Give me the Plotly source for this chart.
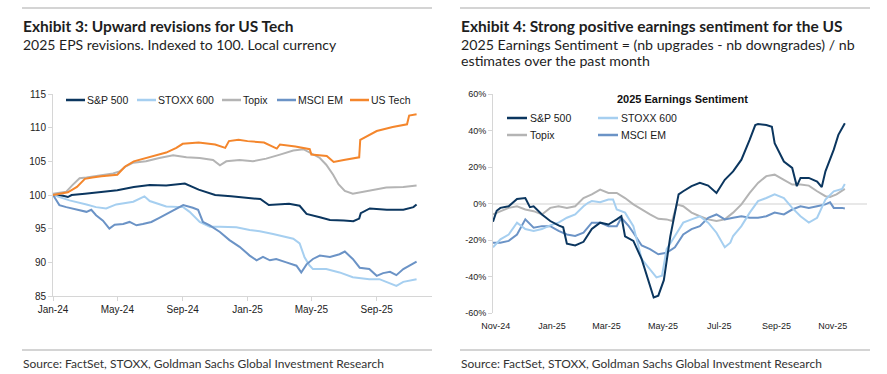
import plotly.graph_objects as go

W, H = 887, 374

# ---------------- Exhibit 3: EPS revisions (indexed to 100) ----------------
sp_dates = ["2024-01-01", "2024-01-20", "2024-01-29", "2024-02-05", "2024-03-01", "2024-04-01",
            "2024-05-01", "2024-06-01", "2024-07-01", "2024-08-01", "2024-09-01", "2024-09-05",
            "2024-10-01", "2024-11-01", "2024-12-01", "2025-01-01", "2025-01-25", "2025-02-10",
            "2025-03-01", "2025-03-20", "2025-04-09", "2025-04-22", "2025-05-17", "2025-06-05",
            "2025-07-01", "2025-07-19", "2025-07-30", "2025-08-02", "2025-08-19", "2025-09-20",
            "2025-10-21", "2025-11-09", "2025-11-15"]
sp_vals = [100.0, 99.9, 99.7, 100.0, 100.2, 100.4, 100.7, 101.2, 101.5, 101.4, 101.6, 101.7,
           100.8, 100.0, 99.8, 99.6, 99.4, 98.5, 98.6, 98.7, 98.4, 97.2, 96.7, 96.3,
           96.2, 96.1, 96.5, 97.3, 98.0, 97.8, 97.8, 98.2, 98.6]

stoxx_dates = ["2024-01-01", "2024-02-01", "2024-03-04", "2024-03-22", "2024-04-10", "2024-04-29",
               "2024-05-31", "2024-06-21", "2024-07-01", "2024-08-01", "2024-09-02", "2024-09-14",
               "2024-10-03", "2024-10-22", "2024-11-10", "2024-12-11", "2025-01-05", "2025-01-24",
               "2025-02-18", "2025-03-15", "2025-03-28", "2025-04-09", "2025-04-18", "2025-04-27",
               "2025-05-04", "2025-05-29", "2025-06-23", "2025-07-18", "2025-08-18", "2025-09-06",
               "2025-09-19", "2025-10-08", "2025-10-21", "2025-11-15"]
stoxx_vals = [100.0, 99.2, 98.6, 98.2, 98.0, 98.6, 99.0, 99.8, 99.1, 98.3, 98.2, 97.5,
              96.0, 95.3, 95.3, 95.2, 94.8, 94.6, 94.2, 93.8, 93.5, 92.8, 90.8, 89.6,
              89.0, 89.0, 88.5, 87.8, 87.5, 87.5, 87.1, 86.5, 87.1, 87.5]

topix_dates = ["2024-01-01", "2024-01-26", "2024-02-07", "2024-02-20", "2024-03-04", "2024-04-04",
               "2024-04-23", "2024-05-05", "2024-05-18", "2024-05-31", "2024-06-24", "2024-07-19",
               "2024-08-14", "2024-09-08", "2024-10-03", "2024-10-28", "2024-11-10", "2024-11-22",
               "2024-12-17", "2025-01-11", "2025-02-05", "2025-03-03", "2025-03-28", "2025-04-16",
               "2025-05-04", "2025-05-17", "2025-05-29", "2025-06-11", "2025-06-21", "2025-07-03",
               "2025-07-18", "2025-08-07", "2025-08-25", "2025-09-19", "2025-10-21", "2025-11-15"]
topix_vals = [100.2, 100.5, 101.5, 102.5, 102.6, 103.0, 103.2, 103.5, 104.3, 104.8, 105.0, 105.5,
              105.9, 105.6, 105.5, 105.2, 104.4, 105.0, 105.2, 105.0, 105.4, 106.0, 106.6, 106.8,
              106.0, 105.5, 104.5, 103.0, 101.6, 100.6, 100.2, 100.5, 100.8, 101.1, 101.2, 101.4]

em_dates = ["2024-01-01", "2024-01-07", "2024-01-13", "2024-01-26", "2024-02-07", "2024-02-20",
            "2024-03-04", "2024-03-13", "2024-03-22", "2024-04-04", "2024-04-11", "2024-04-16",
            "2024-04-26", "2024-05-12", "2024-05-24", "2024-06-06", "2024-06-18", "2024-07-04",
            "2024-07-19", "2024-08-04", "2024-08-20", "2024-09-02", "2024-09-20", "2024-09-30",
            "2024-10-09", "2024-10-22", "2024-11-10", "2024-11-28", "2024-12-17", "2025-01-05",
            "2025-01-18", "2025-01-30", "2025-02-12", "2025-02-24", "2025-03-15", "2025-04-03",
            "2025-04-12", "2025-04-22", "2025-05-04", "2025-05-17", "2025-06-05", "2025-06-23",
            "2025-07-03", "2025-07-18", "2025-07-31", "2025-08-18", "2025-09-01", "2025-09-13",
            "2025-09-26", "2025-10-08", "2025-10-21", "2025-11-02", "2025-11-15"]
em_vals = [100.0, 99.2, 98.5, 98.2, 98.0, 97.8, 97.5, 97.8, 97.0, 96.2, 95.5, 95.0,
           95.6, 95.7, 96.0, 95.5, 95.7, 96.0, 96.6, 97.3, 98.0, 98.5, 98.1, 97.8,
           96.0, 95.5, 94.5, 93.3, 92.3, 91.0, 90.3, 90.8, 90.3, 90.5, 90.0, 89.5,
           88.5, 89.7, 90.5, 91.0, 90.8, 91.2, 91.6, 90.5, 89.2, 89.0, 88.0, 88.4,
           88.6, 88.1, 89.0, 89.5, 90.1]

tech_dates = ["2024-01-01", "2024-01-29", "2024-02-15", "2024-03-01", "2024-03-15", "2024-04-01",
              "2024-05-01", "2024-05-15", "2024-06-01", "2024-07-01", "2024-08-01", "2024-08-20",
              "2024-09-01", "2024-10-01", "2024-11-01", "2024-11-20", "2024-11-27", "2024-12-15",
              "2025-01-01", "2025-02-01", "2025-02-25", "2025-03-03", "2025-04-01", "2025-04-28",
              "2025-05-01", "2025-05-30", "2025-06-12", "2025-07-01", "2025-07-30", "2025-08-01",
              "2025-09-01", "2025-10-01", "2025-10-28", "2025-11-01", "2025-11-15"]
tech_vals = [100.0, 100.4, 101.2, 102.4, 102.6, 102.8, 103.0, 104.2, 105.0, 105.6, 106.3, 107.0,
             107.6, 107.8, 107.5, 107.0, 108.0, 108.2, 108.0, 107.8, 106.9, 107.5, 107.2, 106.8,
             106.0, 105.8, 104.9, 105.2, 105.6, 108.2, 109.5, 110.1, 110.5, 111.8, 112.0]

left_yticks = [85, 90, 95, 100, 105, 110, 115]

# ---------------- Exhibit 4: 2025 earnings sentiment (%) ----------------
sp_r_dates = ["2024-10-29", "2024-11-02", "2024-11-06", "2024-11-15", "2024-11-24", "2024-12-03",
              "2024-12-08", "2024-12-12", "2024-12-21", "2024-12-30", "2025-01-08", "2025-01-13",
              "2025-01-17", "2025-01-26", "2025-02-04", "2025-02-13", "2025-02-22", "2025-03-03",
              "2025-03-12", "2025-03-17", "2025-03-21", "2025-03-30", "2025-04-08", "2025-04-17",
              "2025-04-21", "2025-04-26", "2025-05-02", "2025-05-09", "2025-05-14", "2025-05-18",
              "2025-05-23", "2025-06-01", "2025-06-10", "2025-06-19", "2025-06-28", "2025-07-07",
              "2025-07-16", "2025-07-25", "2025-08-03", "2025-08-09", "2025-08-12", "2025-08-21",
              "2025-08-27", "2025-08-30", "2025-09-09", "2025-09-18", "2025-09-23", "2025-09-27",
              "2025-10-06", "2025-10-15", "2025-10-20", "2025-10-24", "2025-11-02", "2025-11-07",
              "2025-11-14"]
sp_r_vals = [-10, -4, -2.4, -1.5, 2.5, 3, -2, -1.5, -6, -9.6, -12, -13,
             -22, -23, -21, -14, -10.5, -11.5, -8.7, -7, -18, -20.5, -30.5, -45,
             -51.5, -50.5, -42, -18, -4, 5, 6.7, 9.5, 11.3, 9.8, 5.8, 13,
             17.6, 24, 35, 43, 43.5, 43, 42, 33, 23, 19.5, 9.5, 14,
             14, 12, 9, 17.6, 29.5, 37.6, 44]

stoxx_r_dates = ["2024-10-29", "2024-11-06", "2024-11-15", "2024-11-24", "2024-12-03", "2024-12-12",
                 "2024-12-21", "2024-12-30", "2025-01-08", "2025-01-17", "2025-01-26", "2025-02-04",
                 "2025-02-09", "2025-02-13", "2025-02-22", "2025-03-03", "2025-03-08", "2025-03-12",
                 "2025-03-21", "2025-03-30", "2025-04-08", "2025-04-17", "2025-04-24", "2025-04-30",
                 "2025-05-05", "2025-05-14", "2025-05-23", "2025-06-01", "2025-06-10", "2025-06-19",
                 "2025-06-28", "2025-07-07", "2025-07-13", "2025-07-16", "2025-07-25", "2025-08-03",
                 "2025-08-12", "2025-08-21", "2025-08-30", "2025-09-09", "2025-09-18", "2025-09-27",
                 "2025-10-06", "2025-10-15", "2025-10-24", "2025-11-02", "2025-11-11", "2025-11-14"]
stoxx_r_vals = [-24, -19.6, -17, -10.5, -14, -15, -14, -12, -10.5, -7.8, -6, -1.5,
                0.4, 1.3, 0.7, 2.2, 2.2, -3.3, -5, -12.4, -30.5, -36, -40.5, -39.6,
                -25, -17.8, -10.5, -8.7, -7, -10.5, -16, -24, -21.5, -17.8, -12.4, -5,
                1.3, 3, 5, 3, -2.4, -7, -10.5, -7.8, 2.2, 6.7, 8, 10.7]

topix_r_dates = ["2024-10-29", "2024-11-06", "2024-11-15", "2024-11-24", "2024-12-03", "2024-12-12",
                 "2024-12-21", "2024-12-30", "2025-01-08", "2025-01-17", "2025-01-26", "2025-02-04",
                 "2025-02-13", "2025-02-22", "2025-03-03", "2025-03-12", "2025-03-21", "2025-03-30",
                 "2025-04-08", "2025-04-17", "2025-04-26", "2025-05-05", "2025-05-11", "2025-05-16",
                 "2025-05-23", "2025-06-01", "2025-06-10", "2025-06-19", "2025-06-28", "2025-07-07",
                 "2025-07-16", "2025-07-25", "2025-08-03", "2025-08-12", "2025-08-21", "2025-08-30",
                 "2025-09-09", "2025-09-18", "2025-09-27", "2025-10-06", "2025-10-15", "2025-10-24",
                 "2025-10-29", "2025-11-05", "2025-11-14"]
topix_r_vals = [-6, -4.2, -2.4, -1.5, -3.3, -4.2, -6, -2.4, -1.5, -2.4, -1.5, 3,
                5, 7.6, 5.8, 5.8, 3, -0.5, -3.3, -6, -8.4, -8.7, -9.6, -0.5,
                -1.5, -5, -7, -8.7, -9.6, -8.7, -5, -0.5, 5.8, 11.3, 15, 15.8,
                13, 10.4, 10.4, 9.8, 6.7, 4, 3.6, 5, 8]

em_r_dates = ["2024-10-29", "2024-11-06", "2024-11-15", "2024-11-24", "2024-12-03", "2024-12-12",
              "2024-12-21", "2024-12-30", "2025-01-08", "2025-01-17", "2025-01-26", "2025-02-04",
              "2025-02-13", "2025-02-22", "2025-03-03", "2025-03-12", "2025-03-17", "2025-03-25",
              "2025-03-30", "2025-04-08", "2025-04-17", "2025-04-26", "2025-05-05", "2025-05-14",
              "2025-05-23", "2025-06-01", "2025-06-10", "2025-06-19", "2025-06-28", "2025-07-07",
              "2025-07-16", "2025-07-25", "2025-08-03", "2025-08-12", "2025-08-21", "2025-08-30",
              "2025-09-09", "2025-09-18", "2025-09-27", "2025-10-06", "2025-10-15", "2025-10-24",
              "2025-10-29", "2025-11-02", "2025-11-11", "2025-11-14"]
em_r_vals = [-21.5, -21.5, -20.5, -17, -8.7, -13.3, -12.4, -12.4, -15, -17, -17.8, -16,
             -10.5, -10.5, -12.4, -12.4, -7.8, -12.4, -16, -23, -25, -27.8, -27, -24,
             -17, -14, -12.4, -7.8, -6, -8.7, -7.8, -7, -7.8, -7.8, -7, -5,
             -6, -3.3, -1.5, -2.4, -1.5, -0.5, 0.7, -2.4, -2.4, -2.7]

right_yticks = [-60, -40, -20, 0, 20, 40, 60]
right_yticktext = ["-60%", "-40%", "-20%", "0%", "20%", "40%", "60%"]

# ---------------- text ----------------
title_left = "Exhibit 3: Upward revisions for US Tech"
sub_left = "2025 EPS revisions. Indexed to 100. Local currency"
title_right = "Exhibit 4: Strong positive earnings sentiment for the US"
sub_right_1 = "2025 Earnings Sentiment = (nb upgrades - nb downgrades) / nb"
sub_right_2 = "estimates over the past month"
chart_title_right = "2025 Earnings Sentiment"
source_text = "Source: FactSet, STOXX, Goldman Sachs Global Investment Research"

# ---------------- styling ----------------
C_SP = "#0b365f"
C_STOXX = "#a6cff0"
C_TOPIX = "#b4b4b4"
C_EM = "#6b93c6"
C_TECH = "#f4862c"
AX = "#d6d6d6"
TICKFONT = "Liberation Sans, Arial, sans-serif"
TEXTFONT = "Lato, Open Sans, sans-serif"


def px(x):
    return x / W


def py(y):
    return 1 - y / H


fig = go.Figure()

left_series = [
    ("S&P 500", sp_dates, sp_vals, C_SP),
    ("STOXX 600", stoxx_dates, stoxx_vals, C_STOXX),
    ("Topix", topix_dates, topix_vals, C_TOPIX),
    ("MSCI EM", em_dates, em_vals, C_EM),
    ("US Tech", tech_dates, tech_vals, C_TECH),
]
for name, d, v, c in left_series:
    fig.add_trace(go.Scatter(x=d, y=v, mode="lines", name=name,
                             line=dict(color=c, width=2), xaxis="x", yaxis="y"))

right_series = [
    ("Topix", topix_r_dates, topix_r_vals, C_TOPIX),
    ("MSCI EM", em_r_dates, em_r_vals, C_EM),
    ("STOXX 600", stoxx_r_dates, stoxx_r_vals, C_STOXX),
    ("S&P 500", sp_r_dates, sp_r_vals, C_SP),
]
for name, d, v, c in right_series:
    fig.add_trace(go.Scatter(x=d, y=v, mode="lines", name=name,
                             line=dict(color=c, width=2), xaxis="x2", yaxis="y2"))

tickfont = dict(family=TICKFONT, size=10, color="#222222")
tickfont_r = dict(family=TICKFONT, size=9, color="#222222")

fig.update_layout(
    width=W, height=H,
    margin=dict(l=0, r=0, t=0, b=0, autoexpand=False),
    paper_bgcolor="white", plot_bgcolor="white",
    showlegend=False,
    xaxis=dict(domain=[px(53), px(432)], anchor="y", type="date", automargin=False,
               range=["2024-01-01", "2025-12-14"], tick0="2024-01-01", dtick="M4",
               tickformat="%b-%y", showgrid=False, zeroline=False,
               showline=True, linecolor=AX, linewidth=1,
               ticks="outside", ticklen=4, tickcolor=AX, tickfont=tickfont),
    yaxis=dict(domain=[py(296), py(94)], anchor="x", range=[85, 115], automargin=False,
               tickvals=left_yticks, showgrid=False, zeroline=False,
               showline=True, linecolor=AX, linewidth=1,
               ticks="outside", ticklen=4, tickcolor=AX, tickfont=tickfont),
    xaxis2=dict(domain=[px(493), px(867)], anchor="y2", type="date", automargin=False,
                range=["2024-10-29", "2025-12-08"], tick0="2024-11-01", dtick="M2",
                tickformat="%b-%y", showgrid=False, zeroline=False, showline=False,
                ticks="outside", ticklen=4, tickcolor="rgba(0,0,0,0)", tickfont=tickfont_r),
    yaxis2=dict(domain=[py(313), py(94)], anchor="x2", range=[-60, 60], automargin=False,
                tickvals=right_yticks, ticktext=right_yticktext,
                showgrid=False, zeroline=True, zerolinecolor="#e8e8e8", zerolinewidth=1.5,
                showline=True, linecolor=AX, linewidth=1,
                ticks="outside", ticklen=4, tickcolor=AX, tickfont=tickfont_r),
)

shapes = []
# separators
for x0, x1 in [(22, 432), (460, 870)]:
    for yy in (8, 350):
        shapes.append(dict(type="line", xref="paper", yref="paper",
                           x0=px(x0), x1=px(x1), y0=py(yy), y1=py(yy),
                           line=dict(color="#c6c6c6", width=1.5)))

annotations = []


def text(x, y, s, size, family=TEXTFONT, bold=False, color="#1e1e1e", xanchor="left"):
    annotations.append(dict(xref="paper", yref="paper", x=px(x), y=py(y), text=(f"<b>{s}</b>" if bold else s),
                            showarrow=False, xanchor=xanchor, yanchor="middle",
                            font=dict(family=family, size=size, color=color)))


text(21, 26, title_left, 15.5, bold=True)
text(21, 44, sub_left, 14)
text(459, 26, title_right, 15.5, bold=True)
text(459, 44, sub_right_1, 14.2)
text(459, 60.5, sub_right_2, 14.2)
text(21, 363, source_text, 12, color="#333333")
text(459, 363, source_text, 12, color="#333333")
text(682, 98.5, chart_title_right, 11, family=TICKFONT, bold=True, color="#111111", xanchor="center")

# legends (left: one row)
left_legend = [("S&P 500", C_SP, 66), ("STOXX 600", C_STOXX, 137), ("Topix", C_TOPIX, 222),
               ("MSCI EM", C_EM, 277), ("US Tech", C_TECH, 350)]
for name, c, x0 in left_legend:
    shapes.append(dict(type="line", xref="paper", yref="paper", x0=px(x0), x1=px(x0 + 19),
                       y0=py(100), y1=py(100), line=dict(color=c, width=2.5)))
    text(x0 + 19, 100, name, 10.5, family=TICKFONT, color="#1a1a1a")

right_legend = [("S&P 500", C_SP, 507, 118), ("STOXX 600", C_STOXX, 598, 118),
                ("Topix", C_TOPIX, 507, 135), ("MSCI EM", C_EM, 598, 135)]
for name, c, x0, yy in right_legend:
    shapes.append(dict(type="line", xref="paper", yref="paper", x0=px(x0), x1=px(x0 + 20),
                       y0=py(yy), y1=py(yy), line=dict(color=c, width=2.5)))
    text(x0 + 21, yy, name, 10.5, family=TICKFONT, color="#1a1a1a")

fig.update_layout(shapes=shapes, annotations=annotations)

fig.write_html("out.html",
               config={"displayModeBar": False},
               post_script="document.body.style.margin='0';document.body.style.padding='0';"
                           "document.documentElement.style.margin='0';")
